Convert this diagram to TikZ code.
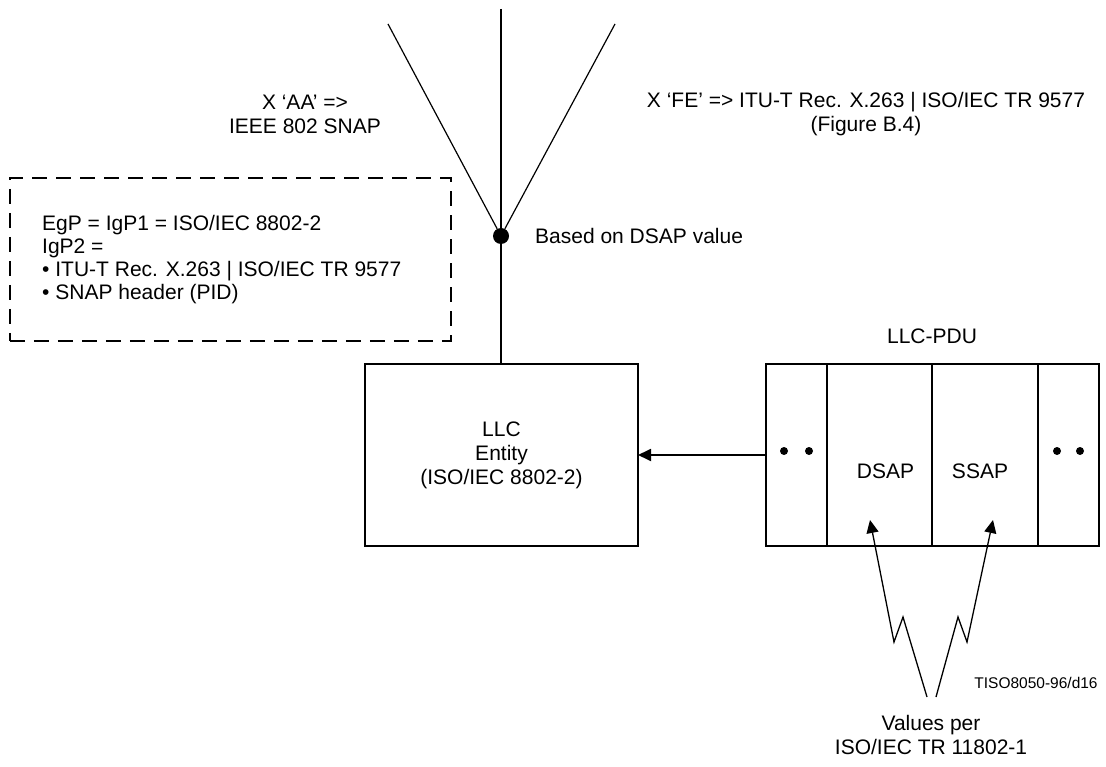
\documentclass[tikz,border=0pt]{standalone}
\usepackage{fontspec}
\setmainfont{Liberation Sans}
\usepackage{tikz}
\usetikzlibrary{arrows.meta,positioning,calc}

\begin{document}
\begin{tikzpicture}[x=1pt, y=-1pt,
    font=\fontsize{21}{24}\selectfont,
    box/.style={draw, line width=1.6pt, inner sep=0pt, outer sep=0pt, align=center},
    cell/.style={box, minimum height=182pt},
    dashbox/.style={draw, line width=1.8pt, dash pattern=on 15pt off 9pt, inner sep=0pt},
    txt/.style={inner sep=0pt, align=center},
    wire/.style={line width=1.2pt},
    arr/.style={line width=1.3pt, -{Triangle[length=13pt, width=12pt]}},
  ]
  \useasboundingbox (0,0) rectangle (1106,767);

  % --- selection point and the three branches above it ---
  \node[circle, fill, inner sep=0pt, minimum size=16pt] (hub) at (501,236) {};
  \coordinate (top)  at (501,9);
  \coordinate (aa)   at (388,24);
  \coordinate (fe)   at (615,24);
  \draw[line width=1.8pt] (top) -- (hub);
  \draw[wire] (aa) -- (hub);
  \draw[wire] (fe) -- (hub);
  \node[txt] (aalbl) at (305,114) {X ‘AA’ =>\\IEEE 802 SNAP};
  \node[txt] (felbl) at (866,114) {X ‘FE’ => ITU-T Rec. X.263 | ISO/IEC TR 9577\\(Figure B.4)};
  \node[txt, anchor=west] (based) at (535,236) {Based on DSAP value};

  % --- dashed note ---
  \node[dashbox, minimum width=441pt, minimum height=163pt, anchor=north west] (note) at (9,177) {};
  \node[txt, align=left, anchor=west, font=\fontsize{21}{23}\selectfont] (notetxt) at ([xshift=33pt]note.west)
    {EgP = IgP1 = ISO/IEC 8802-2\\IgP2 =\\• ITU-T Rec. X.263 | ISO/IEC TR 9577\\• SNAP header (PID)};

  % --- LLC entity ---
  \node[box, minimum width=273pt, minimum height=182pt] (llc) at (501.5,455)
    {LLC\\Entity\\(ISO/IEC 8802-2)};
  \draw[line width=1.8pt] (hub) -- (hub |- llc.north);

  % --- LLC-PDU fields ---
  \node[cell, minimum width=61pt, anchor=north west] (c1) at (766,364) {};
  \node[cell, minimum width=105pt, right=0pt of c1] (dsap) {};
  \node[cell, minimum width=106pt, right=0pt of dsap] (ssap) {};
  \node[cell, minimum width=61pt, right=0pt of ssap] (c4) {};
  \node[txt] (dsaplbl) at ($(dsap.center)+(6,16)$) {DSAP};
  \node[txt] (ssaplbl) at ($(ssap.center)+(-5,16)$) {SSAP};
  \node[txt] (pdulbl) at (932,336) {LLC-PDU};
  \foreach \c/\dx in {c1/12.5, c4/11.5}{
    \fill ([xshift=-\dx pt, yshift=4pt]\c.center) circle (4pt);
    \fill ([xshift=\dx pt, yshift=4pt]\c.center) circle (4pt);
  }
  \draw[arr, line width=1.8pt] (c1.west) -- (llc.east);

  % --- values per 11802-1, zigzag arrows ---
  \node[txt] (vals) at (931,735) {Values per\\ISO/IEC TR 11802-1};
  \coordinate (zl) at (927,697);
  \coordinate (zr) at (936,697);
  \coordinate (dtip) at (870,520);
  \coordinate (stip) at (993,520);
  \draw[arr] (zl) -- (903,617) -- (894,642) -- (dtip);
  \draw[arr] (zr) -- (958,617) -- (967,642) -- (stip);

  \node[txt, font=\fontsize{15.5}{18}\selectfont] (ref) at (1036,683) {TISO8050-96/d16};
\end{tikzpicture}
\end{document}
